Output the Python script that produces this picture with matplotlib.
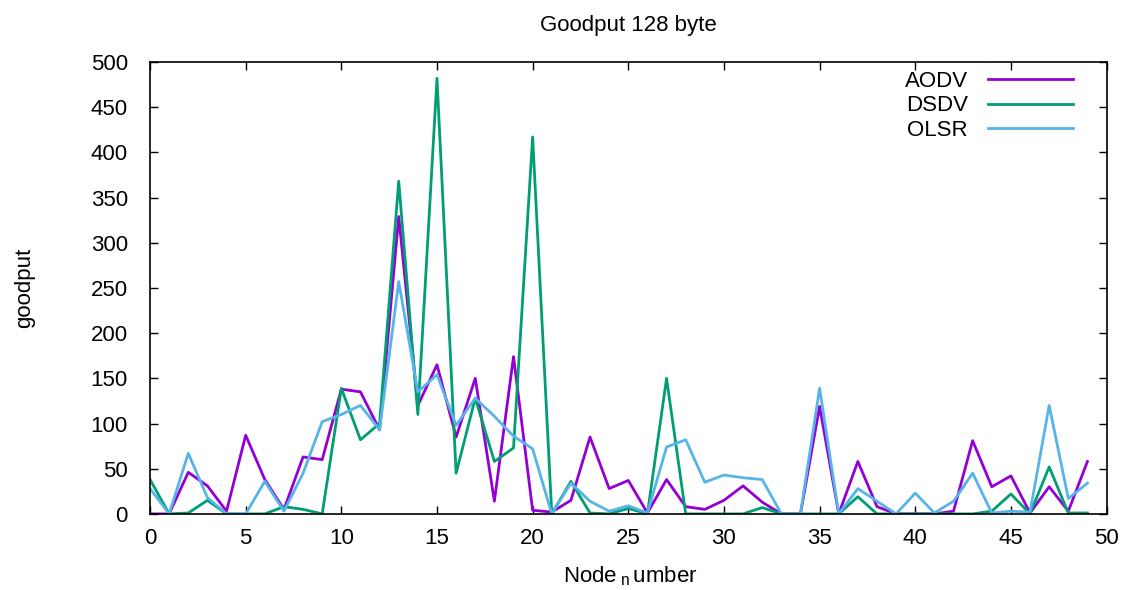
import numpy as np
import matplotlib
matplotlib.use("Agg")
import matplotlib.pyplot as plt

plt.rcParams['font.family'] = ['Liberation Sans', 'DejaVu Sans']

nodes = list(range(50))

aodv = [0, 0, 46, 31, 3, 87, 38, 5, 63, 60,
        138, 135, 93, 329, 120, 165, 85, 150, 14, 174,
        4, 2, 15, 85, 28, 37, 1, 38, 8, 5,
        15, 31, 13, 0, 0, 119, 0, 58, 8, 0,
        0, 0, 3, 81, 30, 42, 1, 30, 3, 58]

dsdv = [38, 0, 1, 15, 0, 0, 0, 8, 5, 0,
        139, 82, 100, 368, 110, 482, 45, 128, 58, 73,
        417, 0, 36, 1, 0, 6, 0, 150, 0, 0,
        0, 0, 7, 0, 0, 0, 0, 19, 0, 0,
        0, 0, 0, 0, 3, 22, 0, 52, 1, 1]

olsr = [28, 0, 67, 18, 0, 0, 36, 3, 45, 102,
        110, 120, 93, 257, 135, 154, 98, 128, 108, 86,
        72, 0, 34, 14, 3, 9, 1, 74, 82, 35,
        43, 40, 38, 0, 0, 139, 0, 28, 14, 0,
        23, 1, 14, 45, 1, 3, 2, 120, 17, 34]

fig = plt.figure(figsize=(11.28, 5.9), dpi=100)
ax = fig.add_axes([0.133, 0.129, 0.848, 0.766])

ax.plot(nodes, aodv, color='#9400D3', lw=2, label='AODV')
ax.plot(nodes, dsdv, color='#009E73', lw=2, label='DSDV')
ax.plot(nodes, olsr, color='#56B4E9', lw=2, label='OLSR')

ax.set_xlim(0, 50)
ax.set_ylim(0, 500)
ax.set_xticks(np.arange(0, 51, 5))
ax.set_yticks(np.arange(0, 501, 50))
ax.tick_params(direction='in', top=True, right=True, labelsize=16, length=6, width=1)
ax.tick_params(axis='y', pad=16)
ax.tick_params(axis='x', pad=10)
for s in ax.spines.values():
    s.set_linewidth(1.2)

ax.set_title('Goodput 128 byte', fontsize=16, pad=22)
ax.set_xlabel(r'Node$\,_\mathregular{n}\,$umber', fontsize=16)
ax.xaxis.set_label_coords(0.502, -0.112)
ax.set_ylabel('goodput', fontsize=16)
ax.yaxis.set_label_coords(-0.12, 0.5)

leg = ax.legend(loc='upper right', frameon=False, markerfirst=False, fontsize=16,
                handlelength=3.8, handletextpad=0.9, labelspacing=0.17,
                borderpad=0, borderaxespad=0, bbox_to_anchor=(0.9644, 0.981))
for t in leg.get_texts():
    t.set_ha('right')

fig.savefig('out.png', dpi=100)
